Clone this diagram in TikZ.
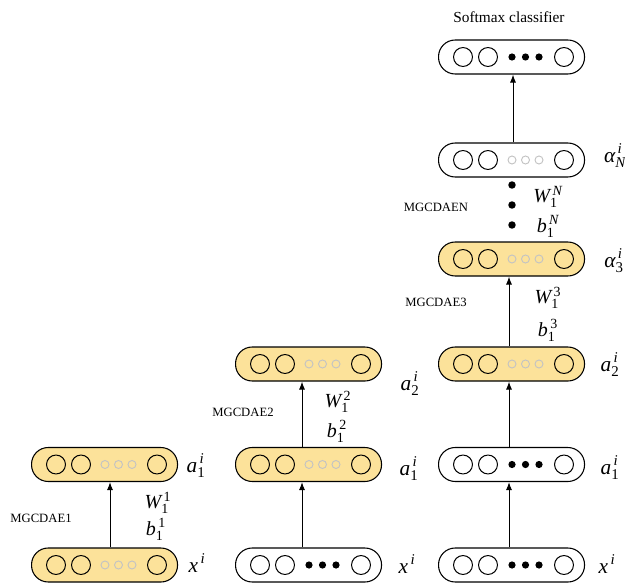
\documentclass[tikz,border=0pt]{standalone}
\usepackage{fontspec}
\setmainfont{Liberation Serif}
\usepackage{amsmath}
\usetikzlibrary{arrows.meta}
\definecolor{layerfill}{RGB}{252,226,154}
\definecolor{ghost}{RGB}{195,195,195}
\tikzset{
  layerbox/.style={draw, line width=0.8pt, rounded corners=12.5pt, minimum width=109.5pt, minimum height=25.5pt, inner sep=0pt, anchor=west},
  bigcirc/.style={draw, line width=0.75pt},
  arr/.style={draw, line width=0.75pt, -{Latex[length=6pt,width=4.5pt]}},
  mathlbl/.style={inner sep=0pt, font=\fontsize{16}{19}\selectfont},
  wblbl/.style={inner sep=0pt, font=\fontsize{15}{18}\selectfont},
  mglbl/.style={inner sep=0pt, font=\fontsize{9.5}{11}\selectfont},
  toplbl/.style={inner sep=0pt, font=\fontsize{11.5}{14}\selectfont}
}
% name, left x, centre y, fill colour, dot kind (0 = grey rings, 1 = black dots)
\newcommand\drawlayer[5]{%
  \node[layerbox, fill=#4] (#1) at (#2,#3) {};
  \draw[bigcirc] (#2+25,#3) circle[radius=7.1pt];
  \draw[bigcirc] (#2+50,#3) circle[radius=7.1pt];
  \draw[bigcirc] (#2+126,#3) circle[radius=7.1pt];
  \ifnum#5=1
    \foreach \dx in {74,87.5,101}{\fill (#2+\dx,#3) circle[radius=2.7pt];}
  \else
    \foreach \dx in {74,87.5,101}{\draw[ghost, line width=0.7pt] (#2+\dx,#3) circle[radius=3pt];}
  \fi
}
\newcommand\lbl[3]{$\text{\itshape #1}_{\text{#2}}^{\,\text{#3}}$}
\begin{document}
\begin{tikzpicture}[x=0.75pt, y=-0.75pt]
\useasboundingbox (0,0) rectangle (625,585);
% column 1
\drawlayer{ca}{31}{464.5}{layerfill}{0}
\drawlayer{cx}{31}{565}{layerfill}{0}
% column 2
\drawlayer{da}{235}{364}{layerfill}{0}
\drawlayer{db}{235}{464.5}{layerfill}{0}
\drawlayer{dx}{235}{565}{white}{1}
% column 3
\drawlayer{es}{438}{57}{white}{1}
\drawlayer{en}{438}{160}{white}{0}
\drawlayer{ec}{438}{259}{layerfill}{0}
\drawlayer{ea}{438}{364}{layerfill}{0}
\drawlayer{eb}{438}{464.5}{white}{1}
\drawlayer{ex}{438}{565}{white}{1}
% arrow columns
\coordinate (k1) at (110,0);
\coordinate (k2) at (302,0);
\coordinate (k3) at (509,0);
\coordinate (k4) at (513,0);
\draw[arr] (cx.north -| k1) -- (ca.south -| k1);
\draw[arr] (dx.north -| k2) -- (db.south -| k2);
\draw[arr] (db.north -| k2) -- (da.south -| k2);
\draw[arr] (ex.north -| k3) -- (eb.south -| k3);
\draw[arr] (eb.north -| k3) -- (ea.south -| k3);
\draw[arr] (ea.north -| k3) -- (ec.south -| k3);
\draw[arr] (en.north -| k4) -- (es.south -| k4);
% vertical dots
\fill (512,185) circle[radius=2.8pt];
\fill (512,205) circle[radius=2.8pt];
\fill (512,225) circle[radius=2.8pt];
% layer labels
\node[mathlbl] (l1) at (196,466) {\lbl{a}{1}{\itshape i}};
\node[mathlbl] (l2) at (197,566) {\lbl{x}{}{\itshape i}};
\node[mathlbl] (l3) at (410,384) {\lbl{a}{2}{\itshape i}};
\node[mathlbl] (l4) at (409,469) {\lbl{a}{1}{\itshape i}};
\node[mathlbl] (l5) at (407,567) {\lbl{x}{}{\itshape i}};
\node[mathlbl] (l6) at (615,156) {\lbl{α}{\itshape N}{\itshape i}};
\node[mathlbl] (l7) at (614,261) {\lbl{α}{3}{\itshape i}};
\node[mathlbl] (l8) at (610,365) {\lbl{a}{2}{\itshape i}};
\node[mathlbl] (l9) at (610,468) {\lbl{a}{1}{\itshape i}};
\node[mathlbl] (l10) at (607,567) {\lbl{x}{}{\itshape i}};
% weights
\node[wblbl] (w1) at (158,503) {\lbl{W}{1}{1}};
\node[wblbl] (b1) at (156,529) {\lbl{b}{1}{1}};
\node[wblbl] (w2) at (338,402) {\lbl{W}{1}{2}};
\node[wblbl] (b2) at (337,431) {\lbl{b}{1}{2}};
\node[wblbl] (w3) at (548,298) {\lbl{W}{1}{3}};
\node[wblbl] (b3) at (548,330) {\lbl{b}{1}{3}};
\node[wblbl] (wn) at (548,197) {\lbl{W}{1}{\itshape N}};
\node[wblbl] (bn) at (548,226) {\lbl{b}{1}{\itshape N}};
% MGCDAE labels
\node[mglbl] (m1) at (41,518) {MGCDAE1};
\node[mglbl] (m2) at (243,412) {MGCDAE2};
\node[mglbl] (m3) at (436,302) {MGCDAE3};
\node[mglbl] (mn) at (436,207) {MGCDAEN};
\node[toplbl] (sm) at (509,17) {Softmax classifier};
\end{tikzpicture}
\end{document}
